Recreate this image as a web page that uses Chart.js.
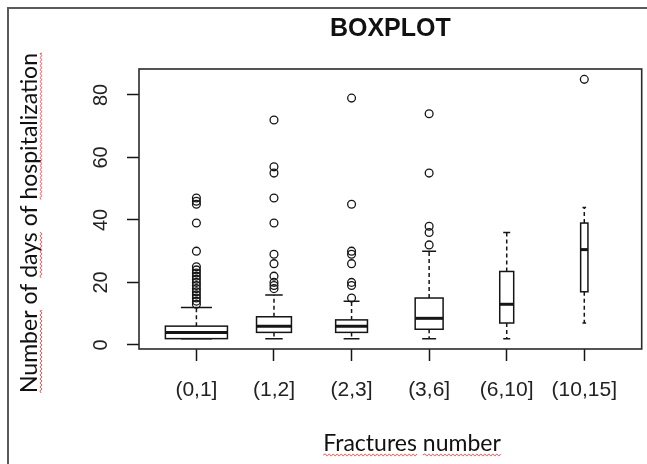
<!DOCTYPE html>
<html>
<head>
<meta charset="utf-8">
<title>BOXPLOT</title>
<script src="https://cdn.jsdelivr.net/npm/chart.js@4.4.1/dist/chart.umd.min.js"></script>
<style>
    html, body { margin: 0; padding: 0; background: #ffffff; }
    #wrap { width: 647px; height: 464px; }
</style>
</head>
<body>
<div id="wrap"><canvas id="boxplot-chart" width="647" height="464"></canvas></div>
<script>
// Fracture groups (x categories)
const categories = ['(0,1]', '(1,2]', '(2,3]', '(3,6]', '(6,10]', '(10,15]'];

// Box statistics, days of hospitalization
const whiskerLow  = [2, 2, 2, 2, 2, 7];
const q1          = [2, 4, 4, 5, 7, 17];
const medians     = [4, 6, 6, 8.5, 13, 30.5];
const q3          = [6, 9, 8, 15, 23.5, 39];
const whiskerHigh = [12, 16, 14, 30, 36, 44];

// Relative box widths (varwidth, sqrt of group size)
const boxWidths = [0.8, 0.45, 0.41, 0.36, 0.18, 0.094];

// Outliers per group
const outliers = [
    [13, 14, 15, 16, 17, 18, 19, 20, 21, 22, 23, 24, 25, 30, 39, 45, 46, 47],
    [18, 19, 20, 22, 26, 29, 39, 47, 55, 57, 72],
    [15, 19, 20, 26, 29, 30, 45, 79],
    [32, 36, 38, 55, 74],
    [],
    [85]
];

// Axis ticks
const xTicks = [1, 2, 3, 4, 5, 6];
const yTicks = [0, 20, 40, 60, 80];

const INK = '#151515';
const ARIAL = 'Arial, "Liberation Sans", sans-serif';
const WORD_FONT = 'Lato, "Open Sans", sans-serif';

document.addEventListener('DOMContentLoaded', function() {
    const canvas = document.getElementById('boxplot-chart');

    // Flatten outliers into scatter points
    const outlierPoints = [];
    outliers.forEach(function(list, i) {
        list.forEach(function(v) {
            outlierPoints.push({ x: xTicks[i], y: v });
        });
    });

    /**
     * Draw a red spell-check style squiggle between x0 and x1 at height y
     */
    function squiggle(ctx, x0, x1, y) {
        ctx.save();
        ctx.strokeStyle = '#e35b5b';
        ctx.lineWidth = 1;
        ctx.beginPath();
        ctx.moveTo(x0, y);
        let up = true;
        for (let x = x0; x < x1; x += 2) {
            ctx.lineTo(Math.min(x + 2, x1), y + (up ? -1.1 : 1.1));
            up = !up;
        }
        ctx.stroke();
        ctx.restore();
    }

    /**
     * Draw text centred at (0,0) and underline some of its words
     */
    function wordText(ctx, text, flagged) {
        const total = ctx.measureText(text).width;
        ctx.textAlign = 'left';
        ctx.textBaseline = 'alphabetic';
        ctx.fillText(text, -total / 2, 0);
        const words = text.split(' ');
        let offset = -total / 2;
        words.forEach(function(w) {
            const ww = ctx.measureText(w).width;
            if (flagged.indexOf(w) !== -1) {
                squiggle(ctx, offset, offset + ww, 4);
            }
            offset += ww + ctx.measureText(' ').width;
        });
    }

    const boxplotPlugin = {
        id: 'boxplotPlugin',
        beforeDraw(chart) {
            const ctx = chart.ctx;
            ctx.save();
            ctx.fillStyle = '#ffffff';
            ctx.fillRect(0, 0, chart.width, chart.height);
            // outer frame (left and top only)
            ctx.strokeStyle = '#5a5a5a';
            ctx.lineWidth = 2;
            ctx.beginPath();
            ctx.moveTo(8, chart.height);
            ctx.lineTo(8, 8);
            ctx.lineTo(chart.width, 8);
            ctx.stroke();
            ctx.restore();
        },
        beforeDatasetsDraw(chart) {
            const ctx = chart.ctx;
            const xs = chart.scales.x;
            const ys = chart.scales.y;
            ctx.save();
            ctx.strokeStyle = INK;
            categories.forEach(function(cat, i) {
                const pos = xTicks[i];
                const half = boxWidths[i] / 2;
                const left = xs.getPixelForValue(pos - half);
                const right = xs.getPixelForValue(pos + half);
                const cx = xs.getPixelForValue(pos);
                const capL = xs.getPixelForValue(pos - half / 2);
                const capR = xs.getPixelForValue(pos + half / 2);
                const yLo = ys.getPixelForValue(whiskerLow[i]);
                const yQ1 = ys.getPixelForValue(q1[i]);
                const yMed = ys.getPixelForValue(medians[i]);
                const yQ3 = ys.getPixelForValue(q3[i]);
                const yHi = ys.getPixelForValue(whiskerHigh[i]);

                // dashed whiskers
                ctx.lineWidth = 1.5;
                ctx.setLineDash([4, 3]);
                ctx.beginPath();
                ctx.moveTo(cx, yQ3); ctx.lineTo(cx, yHi);
                ctx.moveTo(cx, yQ1); ctx.lineTo(cx, yLo);
                ctx.stroke();
                ctx.setLineDash([]);

                // staples
                ctx.beginPath();
                ctx.moveTo(capL, yHi); ctx.lineTo(capR, yHi);
                ctx.moveTo(capL, yLo); ctx.lineTo(capR, yLo);
                ctx.stroke();

                // box
                ctx.fillStyle = '#ffffff';
                ctx.fillRect(left, yQ3, right - left, yQ1 - yQ3);
                ctx.strokeRect(left, yQ3, right - left, yQ1 - yQ3);

                // median
                ctx.lineWidth = 3;
                ctx.beginPath();
                ctx.moveTo(left, yMed); ctx.lineTo(right, yMed);
                ctx.stroke();
            });
            ctx.restore();
        },
        afterDraw(chart) {
            const ctx = chart.ctx;
            const area = chart.chartArea;
            const ys = chart.scales.y;
            ctx.save();

            // plot box
            ctx.strokeStyle = '#2a2a2a';
            ctx.lineWidth = 1.6;
            ctx.strokeRect(area.left, area.top, area.right - area.left, area.bottom - area.top);

            // rotated y tick labels
            ctx.fillStyle = '#222';
            ctx.font = '20px ' + ARIAL;
            ctx.textAlign = 'center';
            ctx.textBaseline = 'middle';
            ys.ticks.forEach(function(t) {
                ctx.save();
                ctx.translate(101, ys.getPixelForValue(t.value));
                ctx.rotate(-Math.PI / 2);
                ctx.fillText(String(t.value), 0, 0);
                ctx.restore();
            });

            // axis titles
            ctx.fillStyle = '#111';
            ctx.font = '23px ' + WORD_FONT;
            ctx.save();
            ctx.translate(37, 223);
            ctx.rotate(-Math.PI / 2);
            wordText(ctx, 'Number of days of hospitalization', ['Number', 'days', 'hospitalization']);
            ctx.restore();

            ctx.save();
            ctx.translate(412, 451);
            wordText(ctx, 'Fractures number', ['Fractures', 'number']);
            ctx.restore();

            ctx.restore();
        }
    };

    new Chart(canvas, {
        type: 'scatter',
        data: {
            datasets: [{
                label: 'Outliers',
                data: outlierPoints,
                pointStyle: 'circle',
                pointRadius: 3.9,
                pointBorderWidth: 1.3,
                borderColor: INK,
                backgroundColor: 'rgba(0,0,0,0)'
            }]
        },
        options: {
            responsive: false,
            animation: false,
            layout: {
                padding: { left: 0, right: 5, top: 0, bottom: 0 }
            },
            scales: {
                x: {
                    type: 'linear',
                    min: 0.26,
                    max: 6.74,
                    afterBuildTicks: function(scale) {
                        scale.ticks = xTicks.map(v => ({ value: v }));
                    },
                    afterFit: function(scale) {
                        scale.height = 115;
                    },
                    border: { display: false },
                    grid: {
                        drawOnChartArea: false,
                        drawTicks: true,
                        tickLength: 12,
                        tickColor: INK,
                        tickWidth: 1.5
                    },
                    ticks: {
                        autoSkip: false,
                        maxRotation: 0,
                        minRotation: 0,
                        padding: 17,
                        color: '#222',
                        font: { family: ARIAL, size: 21 },
                        callback: function(value) {
                            return categories[xTicks.indexOf(value)];
                        }
                    }
                },
                y: {
                    type: 'linear',
                    min: -1.32,
                    max: 88.32,
                    afterBuildTicks: function(scale) {
                        scale.ticks = yTicks.map(v => ({ value: v }));
                    },
                    afterFit: function(scale) {
                        scale.width = 139;
                    },
                    border: { display: false },
                    grid: {
                        drawOnChartArea: false,
                        drawTicks: true,
                        tickLength: 12,
                        tickColor: INK,
                        tickWidth: 1.5
                    },
                    ticks: { display: false }
                }
            },
            plugins: {
                legend: { display: false },
                tooltip: { enabled: false },
                title: {
                    display: true,
                    text: 'BOXPLOT',
                    fullSize: false,
                    color: '#111',
                    font: { family: ARIAL, size: 25, weight: 'bold' },
                    padding: { top: 14, bottom: 25 }
                }
            }
        },
        plugins: [boxplotPlugin]
    });
});
</script>
</body>
</html>
